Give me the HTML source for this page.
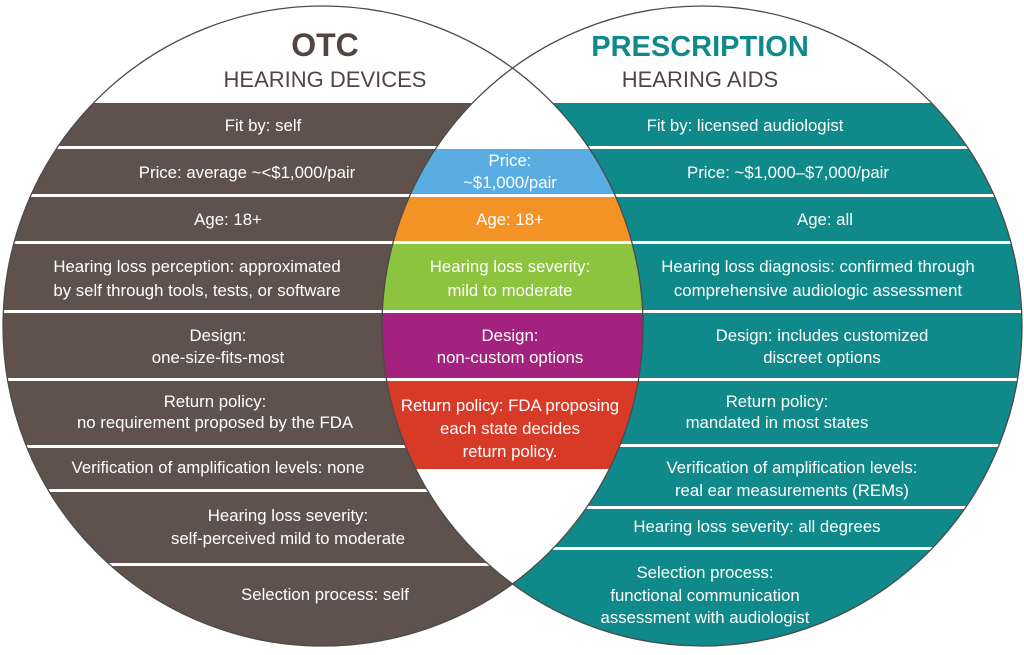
<!DOCTYPE html>
<html><head><meta charset="utf-8"><style>
html,body{margin:0;padding:0;background:#fff;}
svg{display:block;}
text{font-family:"Liberation Sans",sans-serif;}
.t{fill:#fff;font-size:16.8px;text-anchor:middle;}
</style></head><body>
<svg width="1024" height="655" viewBox="0 0 1024 655" xmlns="http://www.w3.org/2000/svg">
<defs>
<clipPath id="cl"><circle cx="323" cy="326" r="320"/></clipPath>
<clipPath id="cr"><circle cx="702" cy="326" r="320"/></clipPath>
</defs>
<rect width="1024" height="655" fill="#fff"/>
<g clip-path="url(#cl)" fill="#5f524d">
<rect x="0" y="103" width="700" height="43"/>
<rect x="0" y="149" width="700" height="45"/>
<rect x="0" y="197" width="700" height="44"/>
<rect x="0" y="244" width="700" height="66"/>
<rect x="0" y="313" width="700" height="65"/>
<rect x="0" y="381" width="700" height="64"/>
<rect x="0" y="448" width="700" height="41"/>
<rect x="0" y="492" width="700" height="71"/>
<rect x="0" y="566" width="700" height="90"/>
</g>
<g clip-path="url(#cr)" fill="#10898a">
<rect x="300" y="103" width="730" height="43"/>
<rect x="300" y="149" width="730" height="45"/>
<rect x="300" y="197" width="730" height="44"/>
<rect x="300" y="244" width="730" height="66"/>
<rect x="300" y="313" width="730" height="65"/>
<rect x="300" y="381" width="730" height="63"/>
<rect x="300" y="447" width="730" height="59"/>
<rect x="300" y="509" width="730" height="38"/>
<rect x="300" y="550" width="730" height="110"/>
</g>
<g clip-path="url(#cl)"><g clip-path="url(#cr)">
<rect x="380" y="0" width="270" height="655" fill="#fff"/>
<rect x="380" y="149" width="270" height="45" fill="#5aade2"/>
<rect x="380" y="197" width="270" height="44" fill="#f39325"/>
<rect x="380" y="244" width="270" height="66" fill="#8cc43f"/>
<rect x="380" y="313" width="270" height="65" fill="#a3227f"/>
<rect x="380" y="381" width="270" height="88" fill="#d83a28"/>
</g></g>
<circle cx="323" cy="326" r="320" fill="none" stroke="#4a4a4a" stroke-width="1.3"/>
<circle cx="702" cy="326" r="320" fill="none" stroke="#4a4a4a" stroke-width="1.3"/>
<text x="325" y="56" text-anchor="middle" font-size="32" font-weight="bold" fill="#524541">OTC</text>
<text x="325" y="87" text-anchor="middle" font-size="22" fill="#524541">HEARING DEVICES</text>
<text x="700" y="56" text-anchor="middle" font-size="29" font-weight="bold" fill="#10898a">PRESCRIPTION</text>
<text x="700" y="87" text-anchor="middle" font-size="22" fill="#524541">HEARING AIDS</text>
<g class="t">
<text x="263" y="131">Fit by: self</text>
<text x="247" y="178">Price: average ~&lt;$1,000/pair</text>
<text x="228" y="225">Age: 18+</text>
<text x="197" y="272">Hearing loss perception: approximated</text>
<text x="197" y="296">by self through tools, tests, or software</text>
<text x="218" y="341">Design:</text>
<text x="218" y="363">one-size-fits-most</text>
<text x="215" y="407">Return policy:</text>
<text x="215" y="428">no requirement proposed by the FDA</text>
<text x="218" y="473">Verification of amplification levels: none</text>
<text x="288" y="521">Hearing loss severity:</text>
<text x="288" y="544">self-perceived mild to moderate</text>
<text x="325" y="600">Selection process: self</text>
<text x="510" y="166">Price:</text>
<text x="510" y="188">~$1,000/pair</text>
<text x="510" y="225">Age: 18+</text>
<text x="510" y="272">Hearing loss severity:</text>
<text x="510" y="296">mild to moderate</text>
<text x="510" y="341">Design:</text>
<text x="510" y="363">non-custom options</text>
<text x="510" y="411">Return policy: FDA proposing</text>
<text x="510" y="434">each state decides</text>
<text x="510" y="457">return policy.</text>
<text x="745" y="131">Fit by: licensed audiologist</text>
<text x="788" y="178">Price: ~$1,000–$7,000/pair</text>
<text x="825" y="225">Age: all</text>
<text x="818" y="272">Hearing loss diagnosis: confirmed through</text>
<text x="818" y="296">comprehensive audiologic assessment</text>
<text x="822" y="341">Design: includes customized</text>
<text x="822" y="363">discreet options</text>
<text x="777" y="407">Return policy:</text>
<text x="777" y="428">mandated in most states</text>
<text x="792" y="473">Verification of amplification levels:</text>
<text x="792" y="496">real ear measurements (REMs)</text>
<text x="757" y="532">Hearing loss severity: all degrees</text>
<text x="705" y="578">Selection process:</text>
<text x="705" y="601">functional communication</text>
<text x="705" y="623">assessment with audiologist</text>
</g>
</svg>
</body></html>
